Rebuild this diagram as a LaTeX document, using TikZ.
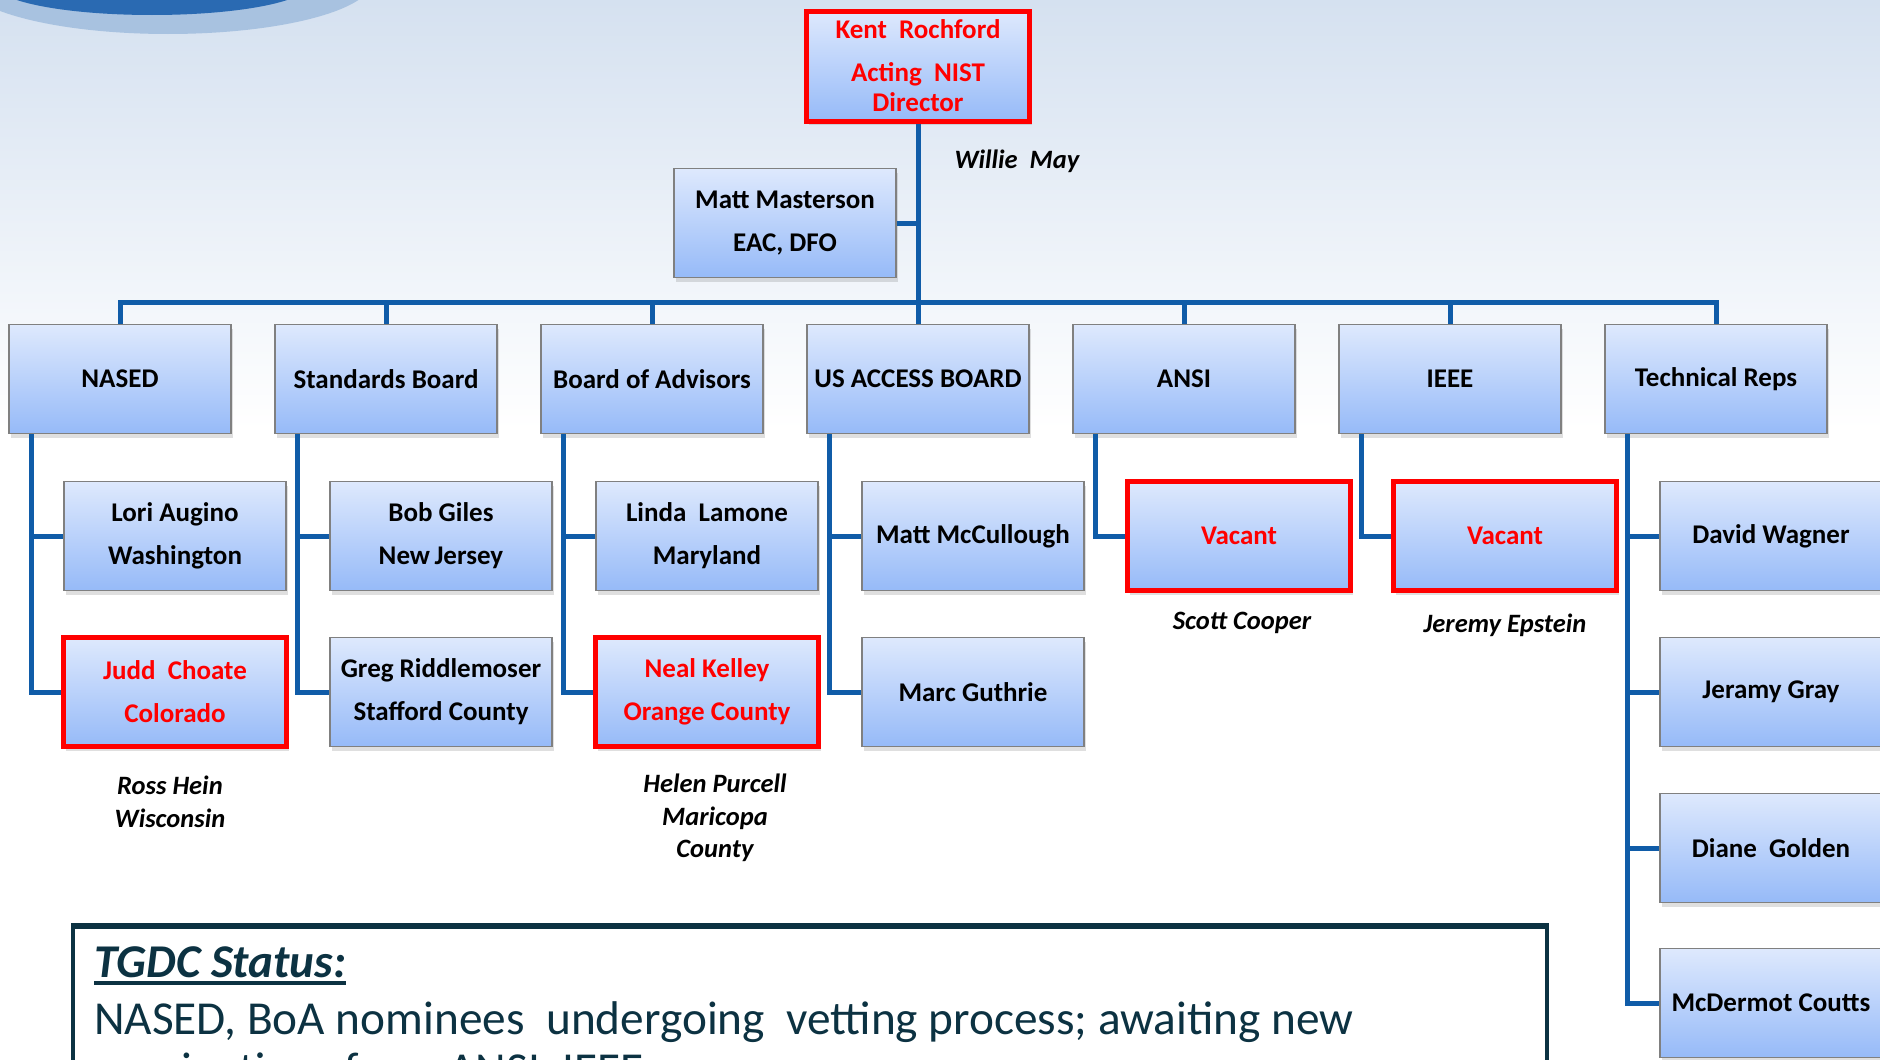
\documentclass[tikz,border=0pt]{standalone}
\usepackage{fontspec}
\setmainfont{Carlito}
\usetikzlibrary{shadows}

\definecolor{linkblue}{RGB}{16,92,168}
\definecolor{boxtop}{RGB}{222,233,253}
\definecolor{boxbot}{RGB}{150,186,248}
\definecolor{boxedge}{RGB}{128,128,128}
\definecolor{bgtop}{RGB}{213,225,240}
\definecolor{swoosh}{RGB}{42,106,178}
\definecolor{swooshlight}{RGB}{168,194,224}
\definecolor{statcol}{RGB}{12,50,66}

\tikzset{
	unit/.style={draw=boxedge, line width=1.5, top color=boxtop, bottom color=boxbot,
		minimum width=222, minimum height=109, align=center,
		font=\fontsize{27}{43}\selectfont\bfseries,
		drop shadow={shadow xshift=2pt, shadow yshift=-4pt, opacity=0.25}},
	vacant/.style={unit, draw=red, line width=5, text=red, minimum width=223},
	link/.style={draw=linkblue, line width=5},
	note/.style={font=\fontsize{26.5}{32.5}\selectfont\bfseries\itshape, align=center},
}

\begin{document}
\begin{tikzpicture}[x=1pt, y=-1pt]
	\clip (0,0) rectangle (1880,1060);
	
	% background
	\fill[white] (0,0) rectangle (1880,1060);
	\shade[top color=bgtop, bottom color=white] (0,0) rectangle (1880,430);
	\fill[swooshlight] (168,-20) ellipse [x radius=205, y radius=54];
	\fill[swoosh] (152,-15) ellipse [x radius=156, y radius=30];
	
	% head and DFO
	\node[vacant, minimum height=110, font=\fontsize{27}{30}\selectfont\bfseries] (h) at (918,66) {Kent\ \ Rochford\\[13pt]Acting\ \ NIST\\Director};
	\node[unit] (m) at (785,223) {Matt Masterson\\EAC, DFO};
	\node[note, anchor=west] (wm) at (951,161) {Willie\ \ May};
	
	% top row
	\foreach \i/\l in {1/NASED, 2/Standards Board, 3/Board of Advisors, 4/US ACCESS BOARD, 5/ANSI, 6/IEEE, 7/Technical Reps}
	{
		\node[unit] (t\i) at ({120+266*(\i-1)}, 379) {\l};
		\coordinate (d\i) at ([xshift=23]t\i.south west);
	}
	
	% members
	\foreach \i/\s/\l in {1/unit/{Lori Augino\\Washington}, 2/unit/{Bob Giles\\New\,Jersey}, 3/unit/{Linda\ \ Lamone\\Maryland}, 4/unit/{Matt McCullough}, 5/vacant/{Vacant}, 6/vacant/{Vacant}, 7/unit/{David Wagner}}
	{
		\node[\s] (a\i) at ({175+266*(\i-1)}, 536) {\l};
	}
	\foreach \i/\s/\l in {1/vacant/{Judd\ \ Choate\\Colorado}, 2/unit/{Greg Riddlemoser\\Stafford County}, 3/vacant/{Neal Kelley\\Orange County}, 4/unit/{Marc Guthrie}, 7/unit/{Jeramy Gray}}
	{
		\node[\s] (b\i) at ({175+266*(\i-1)}, 692) {\l};
	}
	\node[unit] (c7) at (1771,848) {Diane\ \ Golden};
	\node[unit] (e7) at (1771,1003) {McDermot Coutts};
	
	% outgoing members
	\node[note] (n1) at (170,802) {Ross Hein\\Wisconsin};
	\node[note] (n3) at (715,818) {Helen Purcell\\Maricopa\\County};
	\node[note] (n5) at (1242,623) {Scott Cooper};
	\node[note] (n6) at (1505,625) {Jeremy Epstein};
	
	% connectors
	\coordinate (bus) at (918,302);
	\draw[link] (h) -- (t4);
	\draw[link] (m) -- (m -| h);
	\draw[link] (t1) |- (bus) -| (t7);
	\foreach \i in {2,3,5,6}
	{
		\draw[link] (t\i) -- (t\i |- bus);
	}
	\foreach \i/\j in {1/b1, 2/b2, 3/b3, 4/b4, 5/a5, 6/a6, 7/e7}
	{
		\draw[link] (d\i) |- (\j.west);
	}
	\foreach \i/\j in {1/a1, 2/a2, 3/a3, 4/a4, 7/a7, 7/b7, 7/c7}
	{
		\draw[link] (d\i |- \j.west) -- (\j.west);
	}
	
	% status box
	\draw[statcol, line width=3.5] (73,926) rectangle (1547,1120);
	\draw[statcol, line width=6] (71.25,926) -- (1548.75,926);
	\node[anchor=base west, inner sep=0, text=statcol, font=\fontsize{47}{47}\selectfont\bfseries\itshape] (st) at (94,977) {TGDC Status:};
	\draw[statcol, line width=3.5] ([yshift=-6pt]st.base west) -- ([yshift=-6pt]st.base east);
	\node[anchor=base west, inner sep=0, text=statcol, font=\fontsize{47.3}{47}\selectfont] (s1) at (94,1034) {NASED, BoA nominees\ \ undergoing\ \ vetting process; awaiting new};
	\node[anchor=base west, inner sep=0, text=statcol, font=\fontsize{47.3}{47}\selectfont] (s2) at (94,1085) {nominations from ANSI, IEEE};
\end{tikzpicture}
\end{document}
